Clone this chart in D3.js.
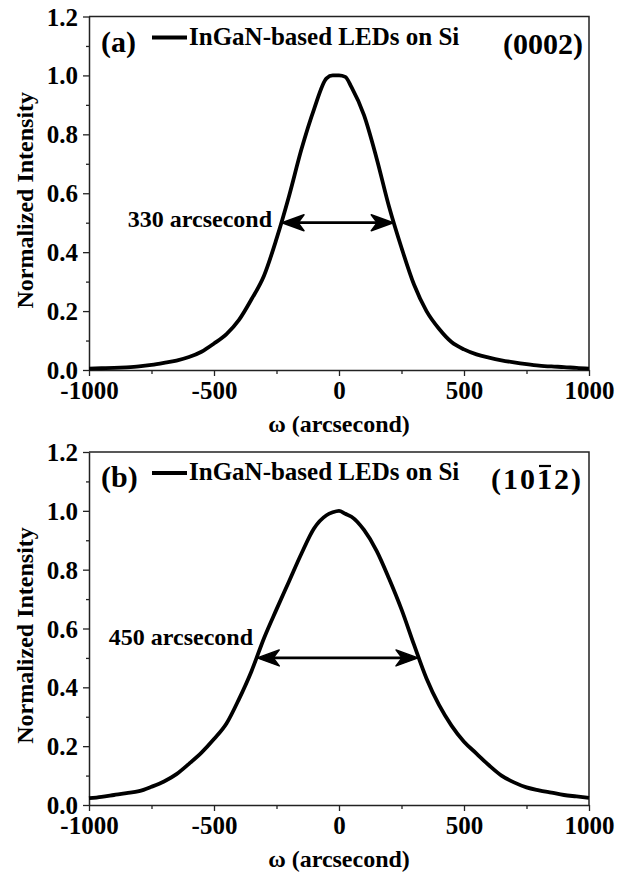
<!DOCTYPE html>
<html lang="en">
<head>
<meta charset="UTF-8">
<title>XRC rocking curves - InGaN LEDs on Si</title>
<script src="https://d3js.org/d3.v7.min.js"></script>
<style>
  body { margin: 0; background: #fff; }
  svg text { font-family: "Liberation Serif", Tinos, "Times New Roman", Times, "DejaVu Serif", serif; font-weight: bold; fill: #000; }
</style>
</head>
<body>
<div id="chart"></div>
<script>
// omega grid (arcsecond)
const omega = [-1000,-950,-900,-850,-800,-750,-700,-650,-600,-550,-500,-450,-400,-350,-300,-250,-200,-150,-100,-50,-25,0,25,50,100,150,200,250,300,350,400,450,500,550,600,650,700,750,800,850,900,950,1000];

// (a) (0002) normalized intensity
const intensityA = [0.005,0.006,0.007,0.009,0.012,0.017,0.024,0.032,0.044,0.062,0.09,0.122,0.17,0.24,0.32,0.445,0.59,0.75,0.885,0.99,1.0,1.0,0.995,0.96,0.865,0.72,0.555,0.415,0.29,0.2,0.14,0.095,0.07,0.053,0.042,0.033,0.026,0.02,0.015,0.012,0.01,0.007,0.005];

// (b) (10-12) normalized intensity
const intensityB = [0.023,0.028,0.034,0.04,0.047,0.062,0.08,0.105,0.14,0.178,0.224,0.277,0.36,0.455,0.567,0.665,0.76,0.855,0.94,0.985,0.995,1.0,0.99,0.98,0.935,0.865,0.77,0.665,0.545,0.43,0.34,0.27,0.215,0.175,0.135,0.1,0.077,0.06,0.05,0.042,0.034,0.029,0.024];

const xTicks = [-1000, -500, 0, 500, 1000];
const xMinor = [-750, -250, 250, 750];
const yTicks = [0, 0.2, 0.4, 0.6, 0.8, 1.0, 1.2];
const yMinor = [0.1, 0.3, 0.5, 0.7, 0.9, 1.1];

const seriesName = "InGaN-based LEDs on Si";
const panelLabels = ["(a)", "(b)"];
const planeLabels = ["(0002)", "(1012)"];
const fwhmLabels = ["330 arcsecond", "450 arcsecond"];
// FWHM arrow ends (arcsecond) and level
const fwhmFrom = [-228, -327];
const fwhmTo = [217, 316];
const fwhmLevel = [0.5, 0.5];
// label end point (arcsecond, intensity)
const fwhmTextX = [-268, -344];
const fwhmTextY = [0.486, 0.544];

const FONT = '"Liberation Serif", Tinos, "Times New Roman", Times, "DejaVu Serif", serif';
const W = 624, H = 875;
const left = 89, right = 589;
const panels = [
  { top: 16.5, bottom: 370, data: intensityA, i: 0 },
  { top: 452, bottom: 805, data: intensityB, i: 1 }
];

const svg = d3.select("#chart").append("svg")
  .attr("width", W).attr("height", H)
  .style("font-family", FONT);

const x = d3.scaleLinear().domain([-1000, 1000]).range([left, right]);

panels.forEach(p => {
  const i = p.i;
  const y = d3.scaleLinear().domain([0, 1.2]).range([p.bottom, p.top]);
  const g = svg.append("g");

  // frame (top + right)
  g.append("path")
    .attr("d", `M${left},${p.top}H${right}V${p.bottom}`)
    .attr("fill", "none").attr("stroke", "#222").attr("stroke-width", 1.5);

  // x axis
  const xa = g.append("g").attr("transform", `translate(0,${p.bottom})`)
    .call(d3.axisBottom(x).tickValues(xTicks).tickFormat(d => String(d)).tickSize(6).tickPadding(3).tickSizeOuter(0));
  g.append("g").attr("transform", `translate(0,${p.bottom})`)
    .call(d3.axisBottom(x).tickValues(xMinor).tickSize(4).tickFormat("").tickSizeOuter(0))
    .select(".domain").remove();
  xa.selectAll("text").attr("font-size", 25).attr("dy", "0.8em");

  // y axis
  const ya = g.append("g").attr("transform", `translate(${left},0)`)
    .call(d3.axisLeft(y).tickValues(yTicks).tickFormat(d3.format(".1f")).tickSize(6).tickPadding(5).tickSizeOuter(0));
  g.append("g").attr("transform", `translate(${left},0)`)
    .call(d3.axisLeft(y).tickValues(yMinor).tickSize(3).tickFormat("").tickSizeOuter(0))
    .select(".domain").remove();
  ya.selectAll("text").attr("font-size", 25).attr("dy", "0.34em");

  g.selectAll("g").attr("font-family", FONT);
  g.selectAll(".domain").attr("stroke", "#222").attr("stroke-width", 1.5);
  g.selectAll(".tick line").attr("stroke", "#222").attr("stroke-width", 1.3);

  // axis titles
  g.append("text")
    .attr("x", (left + right) / 2).attr("y", p.bottom + 62)
    .attr("text-anchor", "middle").attr("font-size", 24)
    .text("ω (arcsecond)");
  g.append("text")
    .attr("transform", `translate(33,${(p.top + p.bottom) / 2 + 7}) rotate(-90)`)
    .attr("text-anchor", "middle").attr("font-size", 24)
    .text("Normalized Intensity");

  // curve
  const line = d3.line().x((d, k) => x(omega[k])).y(d => y(d)).curve(d3.curveMonotoneX);
  g.append("path").datum(p.data)
    .attr("d", line)
    .attr("fill", "none").attr("stroke", "#000")
    .attr("stroke-width", 3.8).attr("stroke-linejoin", "round");

  // legend
  g.append("text").attr("x", 101).attr("y", p.top + 35)
    .attr("font-size", 30).text(panelLabels[i]);
  g.append("line")
    .attr("x1", 152).attr("x2", 187)
    .attr("y1", p.top + 21).attr("y2", p.top + 21)
    .attr("stroke", "#000").attr("stroke-width", 3.8);
  g.append("text").attr("x", 189).attr("y", p.top + 28)
    .attr("font-size", 25).text(seriesName);

  // crystal plane label
  const plane = g.append("text").attr("x", 583).attr("y", p.top + 37)
    .attr("text-anchor", "end").attr("font-size", 30)
    .attr("letter-spacing", i === 1 ? 2 : 0)
    .text(planeLabels[i]);
  if (i === 1) {
    const node = plane.node();
    const s = node.getStartPositionOfChar(3).x;
    const e = node.getEndPositionOfChar(3).x;
    g.append("line")
      .attr("x1", s + 2).attr("x2", e - 3)
      .attr("y1", p.top + 14).attr("y2", p.top + 14)
      .attr("stroke", "#000").attr("stroke-width", 2.2);
  }

  // FWHM arrow
  const ay = y(fwhmLevel[i]);
  const x1 = x(fwhmFrom[i]), x2 = x(fwhmTo[i]);
  g.append("line").attr("x1", x1 + 8).attr("x2", x2 - 8)
    .attr("y1", ay).attr("y2", ay)
    .attr("stroke", "#000").attr("stroke-width", 2.8);
  const L = 22, Wd = 8, N = 6;
  g.append("path")
    .attr("d", `M${x1},${ay}L${x1 + L},${ay - Wd}L${x1 + L - N},${ay}L${x1 + L},${ay + Wd}Z`)
    .attr("fill", "#000").attr("stroke", "#000").attr("stroke-width", 1.5).attr("stroke-linejoin", "round");
  g.append("path")
    .attr("d", `M${x2},${ay}L${x2 - L},${ay - Wd}L${x2 - L + N},${ay}L${x2 - L},${ay + Wd}Z`)
    .attr("fill", "#000").attr("stroke", "#000").attr("stroke-width", 1.5).attr("stroke-linejoin", "round");
  g.append("text")
    .attr("x", x(fwhmTextX[i])).attr("y", y(fwhmTextY[i]))
    .attr("text-anchor", "end").attr("font-size", 24)
    .text(fwhmLabels[i]);
});
</script>
</body>
</html>
